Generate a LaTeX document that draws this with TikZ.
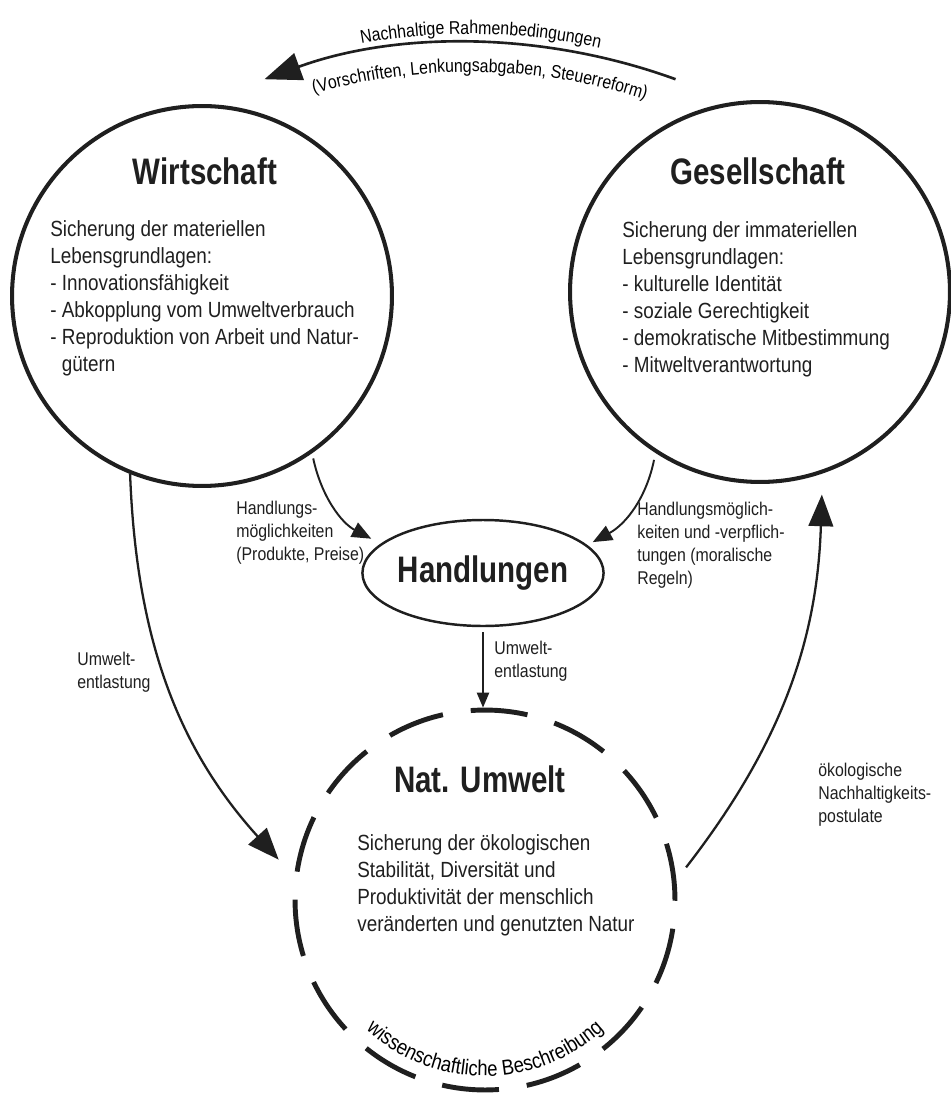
\documentclass[tikz,border=0pt]{standalone}
\usepackage{fontspec}
\setmainfont{Liberation Sans}[FakeStretch=0.86,BoldFeatures={FakeStretch=0.8}]
\usetikzlibrary{arrows.meta,shapes.geometric,decorations.text,calc}
\definecolor{ink}{gray}{0.12}
\newcommand\notefont{\fontsize{10.5}{13.1}\selectfont}
\newcommand\arcfont{\fontsize{12.2}{14}\selectfont}

\begin{document}
\begin{tikzpicture}[
  x=0.02cm, y=0.02cm, color=ink,
  pillar/.style={circle,draw,line width=2.3pt,minimum size=7.6cm,inner sep=0pt},
  nature/.style={circle,draw,line width=2.8pt,minimum size=7.6cm,inner sep=0pt,
    dash pattern=on 32.5pt off 16pt},
  title/.style={font=\bfseries\fontsize{21}{25}\selectfont,inner sep=0pt},
  body/.style={font=\fontsize{12.5}{15.4}\selectfont,align=left,inner sep=0pt,anchor=north west},
  note/.style={font=\notefont,align=left,inner sep=0pt,anchor=north west},
  flow/.style={line width=1.3pt,-{Triangle[length=18pt,width=14pt]}},
  thinflow/.style={line width=1.1pt,-{Triangle[length=11pt,width=9pt]}},
  smallflow/.style={line width=0.8pt,-{Triangle[length=8.5pt,width=7pt]}},
  arctext/.style={decorate,decoration={text along path,text align=center,text={#1}}}
]
\useasboundingbox (0,0) rectangle (950,-1094);

% the three spheres and the actions
\node[pillar] (wirt) at (202,-296) {};
\node[pillar] (gesell) at (760,-292) {};
\node[nature] (umwelt) at (485,-900) {};
\node[draw,ellipse,line width=1.4pt,minimum width=4.44cm,minimum height=2.12cm,title] (handl) at (483,-573) {Handlungen};

\node[title,anchor=base] (wirt-title) at (205,-185) {Wirtschaft};
\node[title,anchor=base] (gesell-title) at (758,-185) {Gesellschaft};
\node[title,anchor=base] (umwelt-title) at (480,-792) {Nat. Umwelt};

\node[body] (wirt-text) at (50,-220) {Sicherung der materiellen\\Lebensgrundlagen:\\- Innovationsfähigkeit\\- Abkopplung vom Umweltverbrauch\\- Reproduktion von Arbeit und Natur-\\\hphantom{-\ }gütern};
\node[body] (gesell-text) at (622,-221) {Sicherung der immateriellen\\Lebensgrundlagen:\\- kulturelle Identität\\- soziale Gerechtigkeit\\- demokratische Mitbestimmung\\- Mitweltverantwortung};
\node[body] (umwelt-text) at (357,-834) {Sicherung der ökologischen\\Stabilität, Diversität und\\Produktivität der menschlich\\veränderten und genutzten Natur};

% connectors
\draw[thinflow,shorten <=3pt,shorten >=6pt] (wirt.-55) to[bend right=25] (handl.164);
\draw[thinflow,shorten <=4pt,shorten >=3.5pt] (gesell.-123.5) to[bend left=25] (handl.15);
\draw[smallflow,shorten <=3pt] (handl.south) -- (handl.south |- umwelt.north);
\draw[flow,shorten >=13pt] (wirt.-112.5) to[bend right=20] (umwelt.173);
\draw[flow,shorten <=9pt,shorten >=12pt] (umwelt.6) to[bend right=18] (gesell.-71.5);

\node[note] (wh-label) at (236,-501) {Handlungs-\\möglichkeiten\\(Produkte, Preise)};
\node[note] (gh-label) at (637,-502) {Handlungsmöglich-\\keiten und -verpflich-\\tungen (moralische\\Regeln)};
\node[note] (hu-label) at (494,-641) {Umwelt-\\entlastung};
\node[note] (wu-label) at (77,-652) {Umwelt-\\entlastung};
\node[note] (ug-label) at (818,-763) {ökologische\\Nachhaltigkeits-\\postulate};

% frame conditions on top
\coordinate (rahmen-c) at (470,-644);
\coordinate (rahmen-start) at ($(rahmen-c)+(70:601)$);
\draw[line width=1.5pt,-{Triangle[length=21pt,width=16pt]}] (rahmen-start) arc[start angle=70,end angle=110,radius=601];
\path[arctext={|\notefont|Nachhaltige Rahmenbedingungen}] ($(rahmen-c)+(114:610)$) arc[start angle=114,end angle=64,radius=610];
\path[arctext={|\notefont|(Vorschriften, Lenkungsabgaben, Steuerreform)}] ($(rahmen-c)+(114:572)$) arc[start angle=114,end angle=64,radius=572];

\path[arctext={|\arcfont|wissenschaftliche Beschreibung}] ($(umwelt.center)+(215:176)$) arc[start angle=215,end angle=325,radius=176];

\end{tikzpicture}
\end{document}
